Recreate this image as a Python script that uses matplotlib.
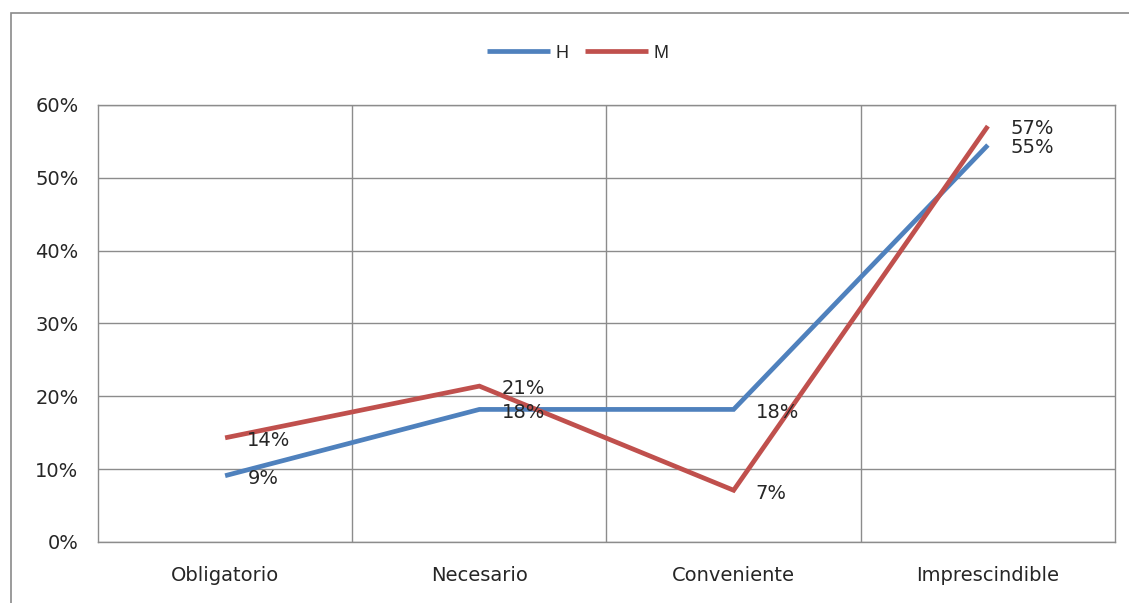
import matplotlib
matplotlib.use("Agg")
import matplotlib.pyplot as plt
from matplotlib.patches import Rectangle
from matplotlib.ticker import PercentFormatter

# categories and shares per group (fractions of respondents)
categorias = ["Obligatorio", "Necesario", "Conveniente", "Imprescindible"]
h_vals = [0.091, 0.182, 0.182, 0.545]
m_vals = [0.143, 0.214, 0.071, 0.571]
series = [("H", h_vals, "#4F81BD"), ("M", m_vals, "#C0504D")]

grid_col = "#8C8C8C"
txt_col = "#262626"
fs = 14

fig = plt.figure(figsize=(11.29, 6.03), dpi=100)
ax = fig.add_axes([0.0868, 0.1012, 0.9008, 0.7247])

x = list(range(len(categorias)))
for name, vals, col in series:
    ax.plot(x, vals, color=col, lw=3.4, label=name, solid_capstyle="butt",
            solid_joinstyle="miter", zorder=3)
    for xi, v in zip(x, vals):
        ax.annotate(f"{v:.0%}", (xi, v), xytext=(16, -2), textcoords="offset points",
                    ha="left", va="center", fontsize=fs, color=txt_col, zorder=4)

ax.set_xlim(-0.5, len(categorias) - 0.5)
ax.set_ylim(0, 0.6)
ax.set_yticks([0, 0.1, 0.2, 0.3, 0.4, 0.5, 0.6])
ax.yaxis.set_major_formatter(PercentFormatter(1.0, decimals=0))
ax.set_xticks(x)
ax.set_xticklabels(categorias)

# horizontal gridlines plus category separators
ax.grid(axis="y", color=grid_col, lw=1.0, zorder=1)
for b in [0.5, 1.5, 2.5]:
    ax.axvline(b, color=grid_col, lw=1.0, zorder=1)
for s in ax.spines.values():
    s.set_color(grid_col)
    s.set_linewidth(1.0)

ax.tick_params(axis="y", length=0, pad=14, labelsize=fs, labelcolor=txt_col)
ax.tick_params(axis="x", length=0, pad=17, labelsize=fs, labelcolor=txt_col)

leg = fig.legend(loc="center", bbox_to_anchor=(578 / 1129, 1 - 53 / 603), ncol=2,
                 frameon=False, handlelength=3.5, handletextpad=0.3,
                 columnspacing=0.9, labelcolor=txt_col,
                 prop={"family": "Liberation Sans", "size": 13})

# chart area border
fig.add_artist(Rectangle((11 / 1129, -0.05), 1.2, 1.05 - 12.5 / 603,
                         transform=fig.transFigure, fill=False,
                         ec="#8A8A8A", lw=1.2))

fig.savefig("out.png", dpi=100, facecolor="white")
